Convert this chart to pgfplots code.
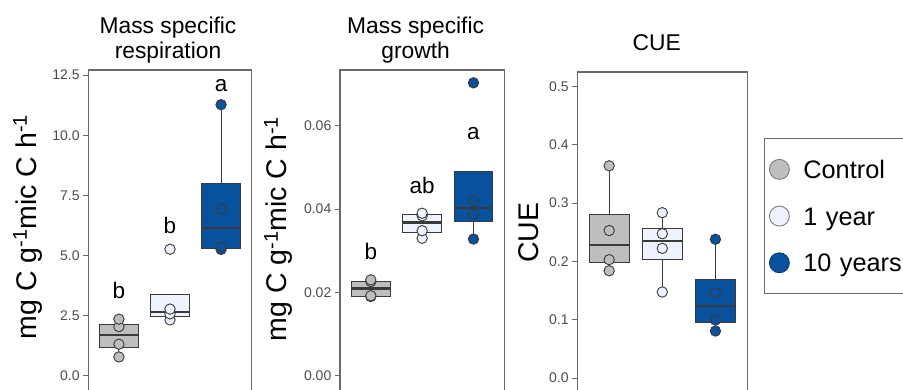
\documentclass[border=0pt]{standalone}
\usepackage{fontspec}
\setmainfont{Liberation Sans}
\usepackage{pgfplots}
\pgfplotsset{compat=1.18}
\usepgfplotslibrary{statistics}
\definecolor{cctrl}{HTML}{BEBEBE}
\definecolor{cone}{HTML}{EEF3FE}
\definecolor{cten}{HTML}{08519C}
\definecolor{edge}{HTML}{3A3A3A}
\definecolor{framec}{HTML}{6A6A6A}
\definecolor{ticklab}{HTML}{4D4D4D}
\tikzset{lett/.style={font=\fontsize{22.5}{22.5}\selectfont, anchor=base}}
\pgfplotsset{
  panel/.style={
    scale only axis,
    anchor=south west,
    axis line style={framec, line width=1.1pt},
    xmin=-0.6, xmax=2.6,
    xtick=\empty,
    ytick pos=left,
    tick align=outside,
    major tick length=5pt,
    every tick/.style={framec, line width=1pt},
    scaled y ticks=false,
    /pgf/number format/assume math mode=true,
    yticklabel style={font=\fontsize{14}{14}\selectfont, color=ticklab, inner sep=0pt, xshift=-3.5pt,
      /pgf/number format/fixed, /pgf/number format/fixed zerofill},
    every axis y label/.style={rotate=90, anchor=base, font=\fontsize{28.5}{28.5}\selectfont},
    title style={font=\fontsize{22.8}{25.4}\selectfont, align=center, inner sep=0pt,
      at={(axis description cs:0.5,1)}, anchor=south},
    boxplot/draw direction=y,
    boxplot/box extend=0.75,
    boxplot/whisker extend=0,
    boxplot/every median/.style={line width=2.4pt},
  },
  bx/.style={draw=edge, line width=1pt, solid, forget plot},
  pts/.style={only marks, mark=*, mark size=5.2pt, line width=0.9pt, draw=edge, forget plot},
}
\begin{document}
\begin{tikzpicture}
\useasboundingbox (0,0) rectangle (903pt,389pt);
\clip (0,0) rectangle (903pt,389pt);

% ---------- Panel 1: Mass specific respiration
\begin{axis}[panel, at={(88.3pt,-10pt)}, width=163.4pt, height=329pt,
  ymin=-0.969, ymax=12.711, ytick={0,2.5,5,7.5,10,12.5},
  yticklabel style={/pgf/number format/precision=1},
  ylabel={mg C g\textsuperscript{-1}mic C h\textsuperscript{-1}},
  ylabel style={at={(axis description cs:-0.320,0.523)}},
  title={Mass specific\\respiration}, title style={xshift=-2pt, yshift=0.5pt}]
\addplot[bx, fill=cctrl, boxplot prepared={draw position=0, lower whisker=0.78, lower quartile=1.18, median=1.70, upper quartile=2.14, upper whisker=2.35}] coordinates {};
\addplot[pts, fill=cctrl] coordinates {(0,0.78) (0,1.31) (0,2.04) (0,2.35)};
\addplot[bx, fill=cone, boxplot prepared={draw position=1, lower whisker=2.32, lower quartile=2.48, median=2.65, upper quartile=3.37, upper whisker=3.37}] coordinates {};
\addplot[pts, fill=cone] coordinates {(1,2.32) (1,2.57) (1,2.77) (1,5.26)};
\addplot[bx, fill=cten, boxplot prepared={draw position=2, lower whisker=5.25, lower quartile=5.30, median=6.13, upper quartile=8.01, upper whisker=11.27}] coordinates {};
\addplot[pts, fill=cten] coordinates {(2,5.25) (2,5.35) (2,6.93) (2,11.27)};
\node[lett] at (axis cs:0,3.19) {b};
\node[lett] at (axis cs:1,5.92) {b};
\node[lett] at (axis cs:2,11.81) {a};
\end{axis}

% ---------- Panel 2: Mass specific growth
\begin{axis}[panel, at={(340pt,-10pt)}, width=164.3pt, height=329pt,
  ymin=-0.00559, ymax=0.07338, ytick={0,0.02,0.04,0.06},
  yticklabel style={/pgf/number format/precision=2},
  ylabel={mg C g\textsuperscript{-1}mic C h\textsuperscript{-1}},
  ylabel style={at={(axis description cs:-0.3226,0.517)}},
  title={Mass specific\\growth}, title style={xshift=-6.5pt, yshift=0.5pt}]
\addplot[bx, fill=cctrl, boxplot prepared={draw position=0, lower whisker=0.0190, lower quartile=0.0191, median=0.0209, upper quartile=0.0226, upper whisker=0.0230}] coordinates {};
\addplot[pts, fill=cctrl] coordinates {(0,0.0190) (0,0.0192) (0,0.0226) (0,0.0230)};
\addplot[bx, fill=cone, boxplot prepared={draw position=1, lower whisker=0.0330, lower quartile=0.0343, median=0.0368, upper quartile=0.0386, upper whisker=0.0390}] coordinates {};
\addplot[pts, fill=cone] coordinates {(1,0.0330) (1,0.0348) (1,0.0384) (1,0.0390)};
\addplot[bx, fill=cten, boxplot prepared={draw position=2, lower whisker=0.0328, lower quartile=0.0370, median=0.0402, upper quartile=0.0490, upper whisker=0.0490}] coordinates {};
\addplot[pts, fill=cten] coordinates {(2,0.0328) (2,0.0387) (2,0.0419) (2,0.0703)};
\node[lett] at (axis cs:0,0.02794) {b};
\node[lett] at (axis cs:1,0.04362) {ab};
\node[lett] at (axis cs:2,0.05658) {a};
\end{axis}

% ---------- Panel 3: CUE
\begin{axis}[panel, at={(577.3pt,-10pt)}, width=170pt, height=327pt,
  ymin=-0.036, ymax=0.5249, ytick={0,0.1,0.2,0.3,0.4,0.5},
  yticklabel style={/pgf/number format/precision=1},
  ylabel={CUE},
  ylabel style={at={(axis description cs:-0.231,0.509)}},
  title={CUE}, title style={anchor=base, yshift=15.3pt, xshift=-5.5pt},
  legend cell align=left,
  legend image code/.code={\draw[#1] plot coordinates {(0pt,0pt)};},
  legend style={at={(axis description cs:1.0982,0.7977)}, anchor=north west,
    draw=framec, line width=1pt, fill=white, inner xsep=4.9pt, inner ysep=20.75pt,
    row sep=26.7pt, column sep=14pt,
    nodes={inner sep=0pt, text height=18pt, text depth=0pt, text width=112pt, align=left,
      font=\fontsize{25.3}{25.3}\selectfont}}]
\addplot[bx, fill=cctrl, boxplot prepared={draw position=0, lower whisker=0.184, lower quartile=0.198, median=0.228, upper quartile=0.281, upper whisker=0.364}] coordinates {};
\addplot[pts, fill=cctrl] coordinates {(0,0.184) (0,0.203) (0,0.253) (0,0.364)};
\addplot[bx, fill=cone, boxplot prepared={draw position=1, lower whisker=0.1475, lower quartile=0.204, median=0.2355, upper quartile=0.256, upper whisker=0.2836}] coordinates {};
\addplot[pts, fill=cone] coordinates {(1,0.1475) (1,0.2224) (1,0.2475) (1,0.2836)};
\addplot[bx, fill=cten, boxplot prepared={draw position=2, lower whisker=0.0806, lower quartile=0.095, median=0.1235, upper quartile=0.169, upper whisker=0.238}] coordinates {};
\addplot[pts, fill=cten] coordinates {(2,0.0806) (2,0.0995) (2,0.1458) (2,0.238)};
\addlegendimage{only marks, mark=*, mark size=10pt, line width=0.8pt, draw=black!55, fill=cctrl}
\addlegendentry{Control}
\addlegendimage{only marks, mark=*, mark size=10pt, line width=0.8pt, draw=black!55, fill=cone}
\addlegendentry{1 year}
\addlegendimage{only marks, mark=*, mark size=10pt, line width=0.8pt, draw=cten!70!black, fill=cten}
\addlegendentry{10 years}
\end{axis}
\end{tikzpicture}
\end{document}
